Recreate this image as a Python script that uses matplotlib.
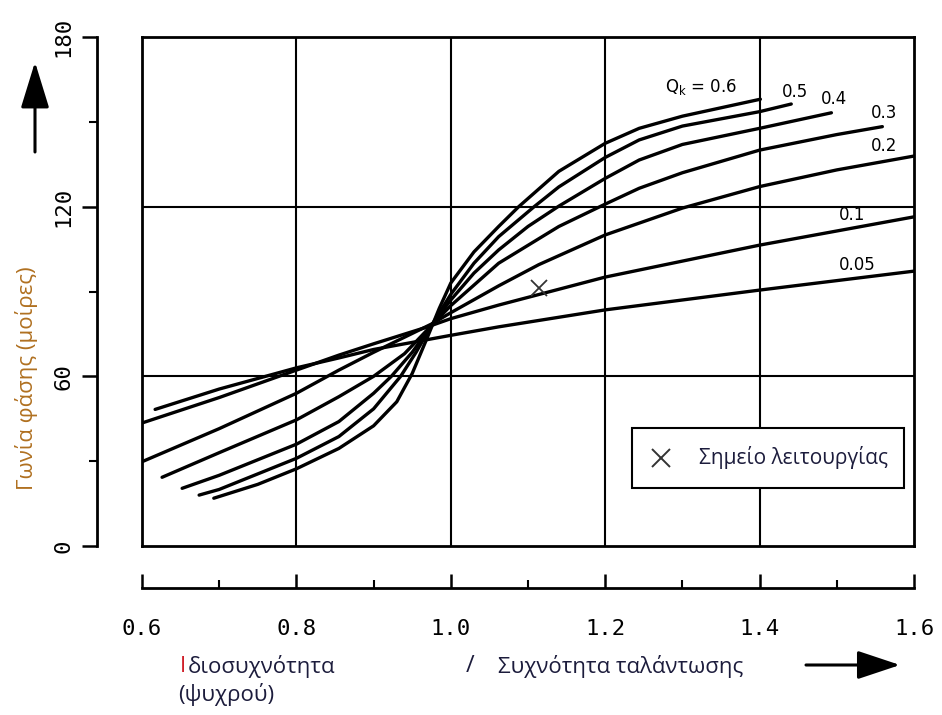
import numpy as np
import matplotlib.pyplot as plt
from matplotlib.patches import Rectangle, FancyArrowPatch

plt.rcParams['mathtext.default'] = 'regular'

# phase angle curves (frequency ratio, degrees)
q005_x = [0.617, 0.7, 0.8, 0.855, 0.9, 1.0, 1.062, 1.2, 1.4, 1.6]
q005_y = [48.3, 55.5, 63.0, 66.5, 69.5, 74.5, 77.5, 83.5, 90.5, 97.2]

q01_x = [0.6, 0.7, 0.8, 0.855, 0.9, 0.97, 1.0, 1.062, 1.2, 1.4, 1.6]
q01_y = [43.5, 52.5, 62.2, 67.5, 71.5, 77.5, 80.4, 85.2, 95.1, 106.4, 116.4]

q02_x = [0.6, 0.7, 0.8, 0.855, 0.9, 0.975, 1.0, 1.062, 1.114, 1.2, 1.3, 1.4, 1.5, 1.6]
q02_y = [29.8, 41.5, 54.0, 62.2, 68.5, 78.5, 82.5, 92.0, 99.5, 110.0, 119.5, 127.1, 133.0, 137.9]

q03_x = [0.626, 0.7, 0.8, 0.855, 0.9, 0.94, 0.975, 1.0, 1.062, 1.14, 1.2, 1.244, 1.3, 1.4, 1.5, 1.559]
q03_y = [24.3, 33.0, 44.6, 52.8, 60.0, 68.0, 78.0, 85.0, 100.0, 113.0, 120.9, 126.5, 132.0, 140.0, 145.5, 148.3]

q04_x = [0.652, 0.7, 0.8, 0.855, 0.9, 0.923, 0.95, 0.975, 1.0, 1.03, 1.062, 1.1, 1.14, 1.2, 1.244, 1.3, 1.4, 1.493]
q04_y = [20.4, 25.0, 36.0, 44.0, 54.0, 60.0, 68.5, 78.0, 87.0, 96.5, 104.7, 113.0, 120.2, 130.0, 136.5, 142.0, 147.7, 153.2]

q05_x = [0.674, 0.7, 0.8, 0.855, 0.9, 0.935, 0.955, 0.975, 1.0, 1.03, 1.062, 1.108, 1.14, 1.2, 1.244, 1.3, 1.4, 1.441]
q05_y = [18.0, 20.0, 31.0, 38.7, 48.5, 60.0, 68.5, 78.0, 89.0, 100.0, 109.4, 120.0, 127.0, 137.4, 143.6, 148.5, 153.6, 156.3]

q06_x = [0.693, 0.75, 0.8, 0.855, 0.9, 0.93, 0.95, 0.97, 0.985, 1.0, 1.03, 1.062, 1.088, 1.14, 1.2, 1.244, 1.3, 1.401]
q06_y = [16.9, 21.8, 27.3, 34.5, 42.5, 51.0, 61.0, 74.0, 84.0, 93.0, 104.0, 113.0, 120.0, 132.5, 142.4, 147.7, 152.0, 158.0]

curves = [(q005_x, q005_y), (q01_x, q01_y), (q02_x, q02_y), (q03_x, q03_y),
          (q04_x, q04_y), (q05_x, q05_y), (q06_x, q06_y)]

# curve labels: text, x, y
curve_labels = ['0.05', '0.1', '0.2', '0.3', '0.4', '0.5']
label_x = [1.503, 1.503, 1.544, 1.544, 1.48, 1.429]
label_y = [99.4, 117.0, 141.4, 153.0, 158.0, 160.6]

op_x = [1.114]
op_y = [91.4]

x_ticks = [0.6, 0.8, 1.0, 1.2, 1.4, 1.6]
x_tick_labels = ['0.6', '0.8', '1.0', '1.2', '1.4', '1.6']
x_minor = [0.7, 0.9, 1.1, 1.3, 1.5]
y_ticks = [0, 60, 120, 180]
y_minor = [30, 90, 150]

W, H = 942, 715
fig = plt.figure(figsize=(W / 100, H / 100), dpi=100)

L, R, T, B = 142, 914, 37, 546
ax = fig.add_axes([L / W, 1 - B / H, (R - L) / W, (B - T) / H])
ax.set_xlim(0.6, 1.6)
ax.set_ylim(0, 180)
for s in ax.spines.values():
    s.set_linewidth(2.0)
ax.set_xticks([])
ax.set_yticks([])
for gx in [0.8, 1.0, 1.2, 1.4]:
    ax.axvline(gx, color='black', lw=1.5, zorder=1)
for gy in [60, 120]:
    ax.axhline(gy, color='black', lw=1.5, zorder=1)

for cx, cy in curves:
    ax.plot(cx, cy, color='black', lw=2.4, solid_capstyle='round',
            solid_joinstyle='round', zorder=3)

for t, lx, ly in zip(curve_labels, label_x, label_y):
    ax.text(lx, ly, t, fontsize=12, ha='left', va='center', zorder=4)
ax.text(1.278, 162.4, 'Q$_k$ = 0.6', fontsize=12, ha='left', va='center', zorder=4)

ax.plot(op_x, op_y, marker='x', ms=12, mew=1.3, color='#333333', ls='none', zorder=4)

# legend box
ax.add_patch(Rectangle((1.235, 20.4), 0.352, 21.2, facecolor='white',
                       edgecolor='black', lw=1.5, zorder=5))
ax.plot([1.272], [31.2], marker='x', ms=13, mew=1.4, color='#333333', zorder=6)
ax.text(1.322, 31.2, 'Σημείο λειτουργίας', fontsize=15, family='Open Sans',
        color='#1c1c3c', ha='left', va='center', zorder=6)

mono = 'DejaVu Sans Mono'

# separate y axis
axy = fig.add_axes([97 / W, 1 - B / H, 0.0001, (B - T) / H])
axy.set_ylim(0, 180)
axy.set_xticks([])
for k in ['top', 'right', 'bottom']:
    axy.spines[k].set_visible(False)
axy.spines['left'].set_linewidth(2.0)
axy.set_yticks(y_ticks)
axy.set_yticks(y_minor, minor=True)
axy.set_yticklabels([str(v) for v in y_ticks], rotation=90, va='center',
                    family=mono, fontsize=16)
axy.tick_params(axis='y', which='major', direction='out', length=11, width=1.8, pad=6)
axy.tick_params(axis='y', which='minor', direction='out', length=6, width=1.5)
axy.patch.set_visible(False)

# separate x axis
axx = fig.add_axes([L / W, 1 - 588 / H, (R - L) / W, 0.0001])
axx.set_xlim(0.6, 1.6)
axx.set_yticks([])
for k in ['top', 'right', 'left']:
    axx.spines[k].set_visible(False)
axx.spines['bottom'].set_linewidth(2.0)
axx.set_xticks(x_ticks)
axx.set_xticks(x_minor, minor=True)
axx.set_xticklabels(x_tick_labels, family=mono, fontsize=16)
axx.tick_params(axis='x', which='major', direction='in', length=10, width=1.8, pad=22)
axx.tick_params(axis='x', which='minor', direction='in', length=6, width=1.5)
axx.patch.set_visible(False)

# axis titles
sans = 'Open Sans'
fig.text(27 / W, 1 - 378 / H, 'Γωνία φάσης (μοίρες)', rotation=90, ha='center', va='center',
         fontsize=16, family=sans, color='#b07020')
fig.text(180 / W, 1 - 666 / H, 'Ι', fontsize=16, family=sans, color='#d0202a',
         ha='left', va='center')
fig.text(188 / W, 1 - 666 / H, 'διοσυχνότητα', fontsize=16, family=sans, color='#1c1c3c',
         ha='left', va='center')
fig.text(178 / W, 1 - 694 / H, '(ψυχρού)', fontsize=16, family=sans, color='#1c1c3c',
         ha='left', va='center')
fig.text(470 / W, 1 - 666 / H, '/', fontsize=17, family=sans, color='#1c1c3c',
         ha='center', va='center')
fig.text(498 / W, 1 - 666 / H, 'Συχνότητα ταλάντωσης', fontsize=16, family=sans,
         color='#1c1c3c', ha='left', va='center')

# arrows
fig.add_artist(FancyArrowPatch((806 / W, 1 - 665 / H), (900 / W, 1 - 665 / H),
                               transform=fig.transFigure, arrowstyle='-|>,head_length=1.2,head_width=0.4',
                               mutation_scale=22, color='black', lw=2.2, shrinkA=0, shrinkB=0))
fig.add_artist(FancyArrowPatch((35 / W, 1 - 152 / H), (35 / W, 1 - 62 / H),
                               transform=fig.transFigure, arrowstyle='-|>,head_length=1.3,head_width=0.4',
                               mutation_scale=22, color='black', lw=2.2, shrinkA=0, shrinkB=0))

fig.savefig('out.png', dpi=100, facecolor='white')
